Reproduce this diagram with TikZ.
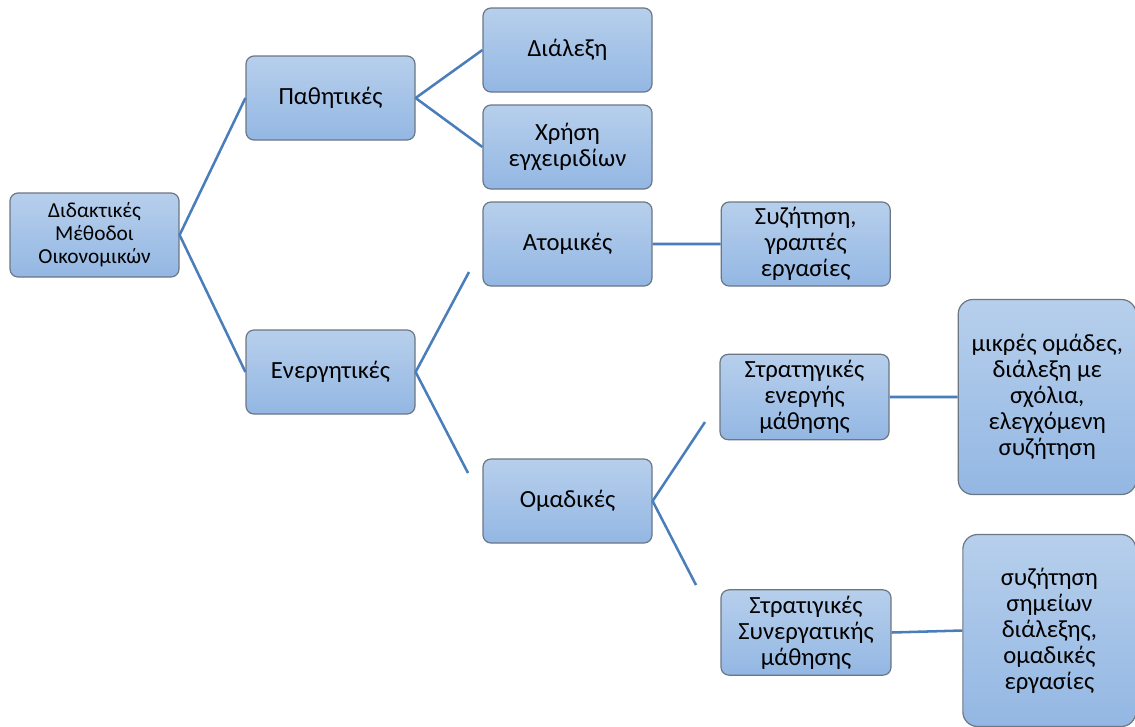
\documentclass[tikz,border=0pt]{standalone}
\usepackage{fontspec}
\setmainfont{Carlito}
\usetikzlibrary{positioning}
\definecolor{boxtop}{HTML}{B7CFEC}
\definecolor{boxbot}{HTML}{93B7E3}
\definecolor{boxedge}{HTML}{6B7784}
\definecolor{linkblue}{HTML}{4A7EBB}

\begin{document}
\begin{tikzpicture}[x=0.75pt,y=-0.75pt]
  \tikzset{
    box/.style={draw=boxedge,line width=0.9pt,rounded corners=6pt,
      top color=boxtop,bottom color=boxbot,align=center,inner sep=2pt,
      minimum width=126.75pt,minimum height=63pt,
      font=\fontsize{18.5}{19.5}\selectfont},
    rootbox/.style={box,font=\fontsize{16}{17.25}\selectfont},
    tallbox/.style={box,rounded corners=11pt},
    link/.style={draw=linkblue,line width=1.9pt},
  }
  \useasboundingbox (0,0) rectangle (1135,726);

  \node [rootbox] (root) at (94.5,235)  {Διδακτικές\\Μέθοδοι\\Οικονομικών};
  \node [box] (pas)  at (330.5,98)  {Παθητικές};
  \node [box] (dial) at (567.5,50)  {Διάλεξη};
  \node [box] (xris) at (567.5,147) {Χρήση\\εγχειριδίων};
  \node [box] (ener) at (330.5,372) {Ενεργητικές};
  \node [box] (atom) at (567.5,244) {Ατομικές};
  \node [box] (syz)  [right=51pt of atom] {Συζήτηση,\\γραπτές\\εργασίες};
  \node [box] (omad) at (567.5,501) {Ομαδικές};
  \node [box,minimum height=64pt] (act) at (804.5,397)
        {Στρατηγικές\\ενεργής\\μάθησης};
  \node [tallbox,minimum width=133.5pt,minimum height=146.25pt] (mikr)
        [right=51pt of act] {μικρές ομάδες,\\διάλεξη με\\σχόλια,\\ελεγχόμενη\\συζήτηση};
  \node [box,minimum width=127.5pt,minimum height=64pt] (syn) at (806,632.5)
        {Στρατιγικές\\Συνεργατικής\\μάθησης};
  \node [tallbox,minimum width=129.75pt,minimum height=144pt] (sim)
        [right=53pt of syn,yshift=1.5pt] {συζήτηση\\σημείων\\διάλεξης,\\ομαδικές\\εργασίες};

  % free ends of the open branches
  \coordinate (ea) at (469,272);
  \coordinate (eo) at (468,473);
  \coordinate (oa) at (705,422);
  \coordinate (os) at (696,585);

  \path [link]
  (root.east) -- (pas.west)
  (root.east) -- (ener.west)
  (pas.east)  -- (dial.west)
  (pas.east)  -- (xris.west)
  (ener.east) -- (ea)
  (ener.east) -- (eo)
  (atom.east) -- (syz.west)
  (omad.east) -- (oa)
  (omad.east) -- (os)
  (act.east)  -- (mikr.west)
  (syn.east)  -- (sim.west);
\end{tikzpicture}
\end{document}
